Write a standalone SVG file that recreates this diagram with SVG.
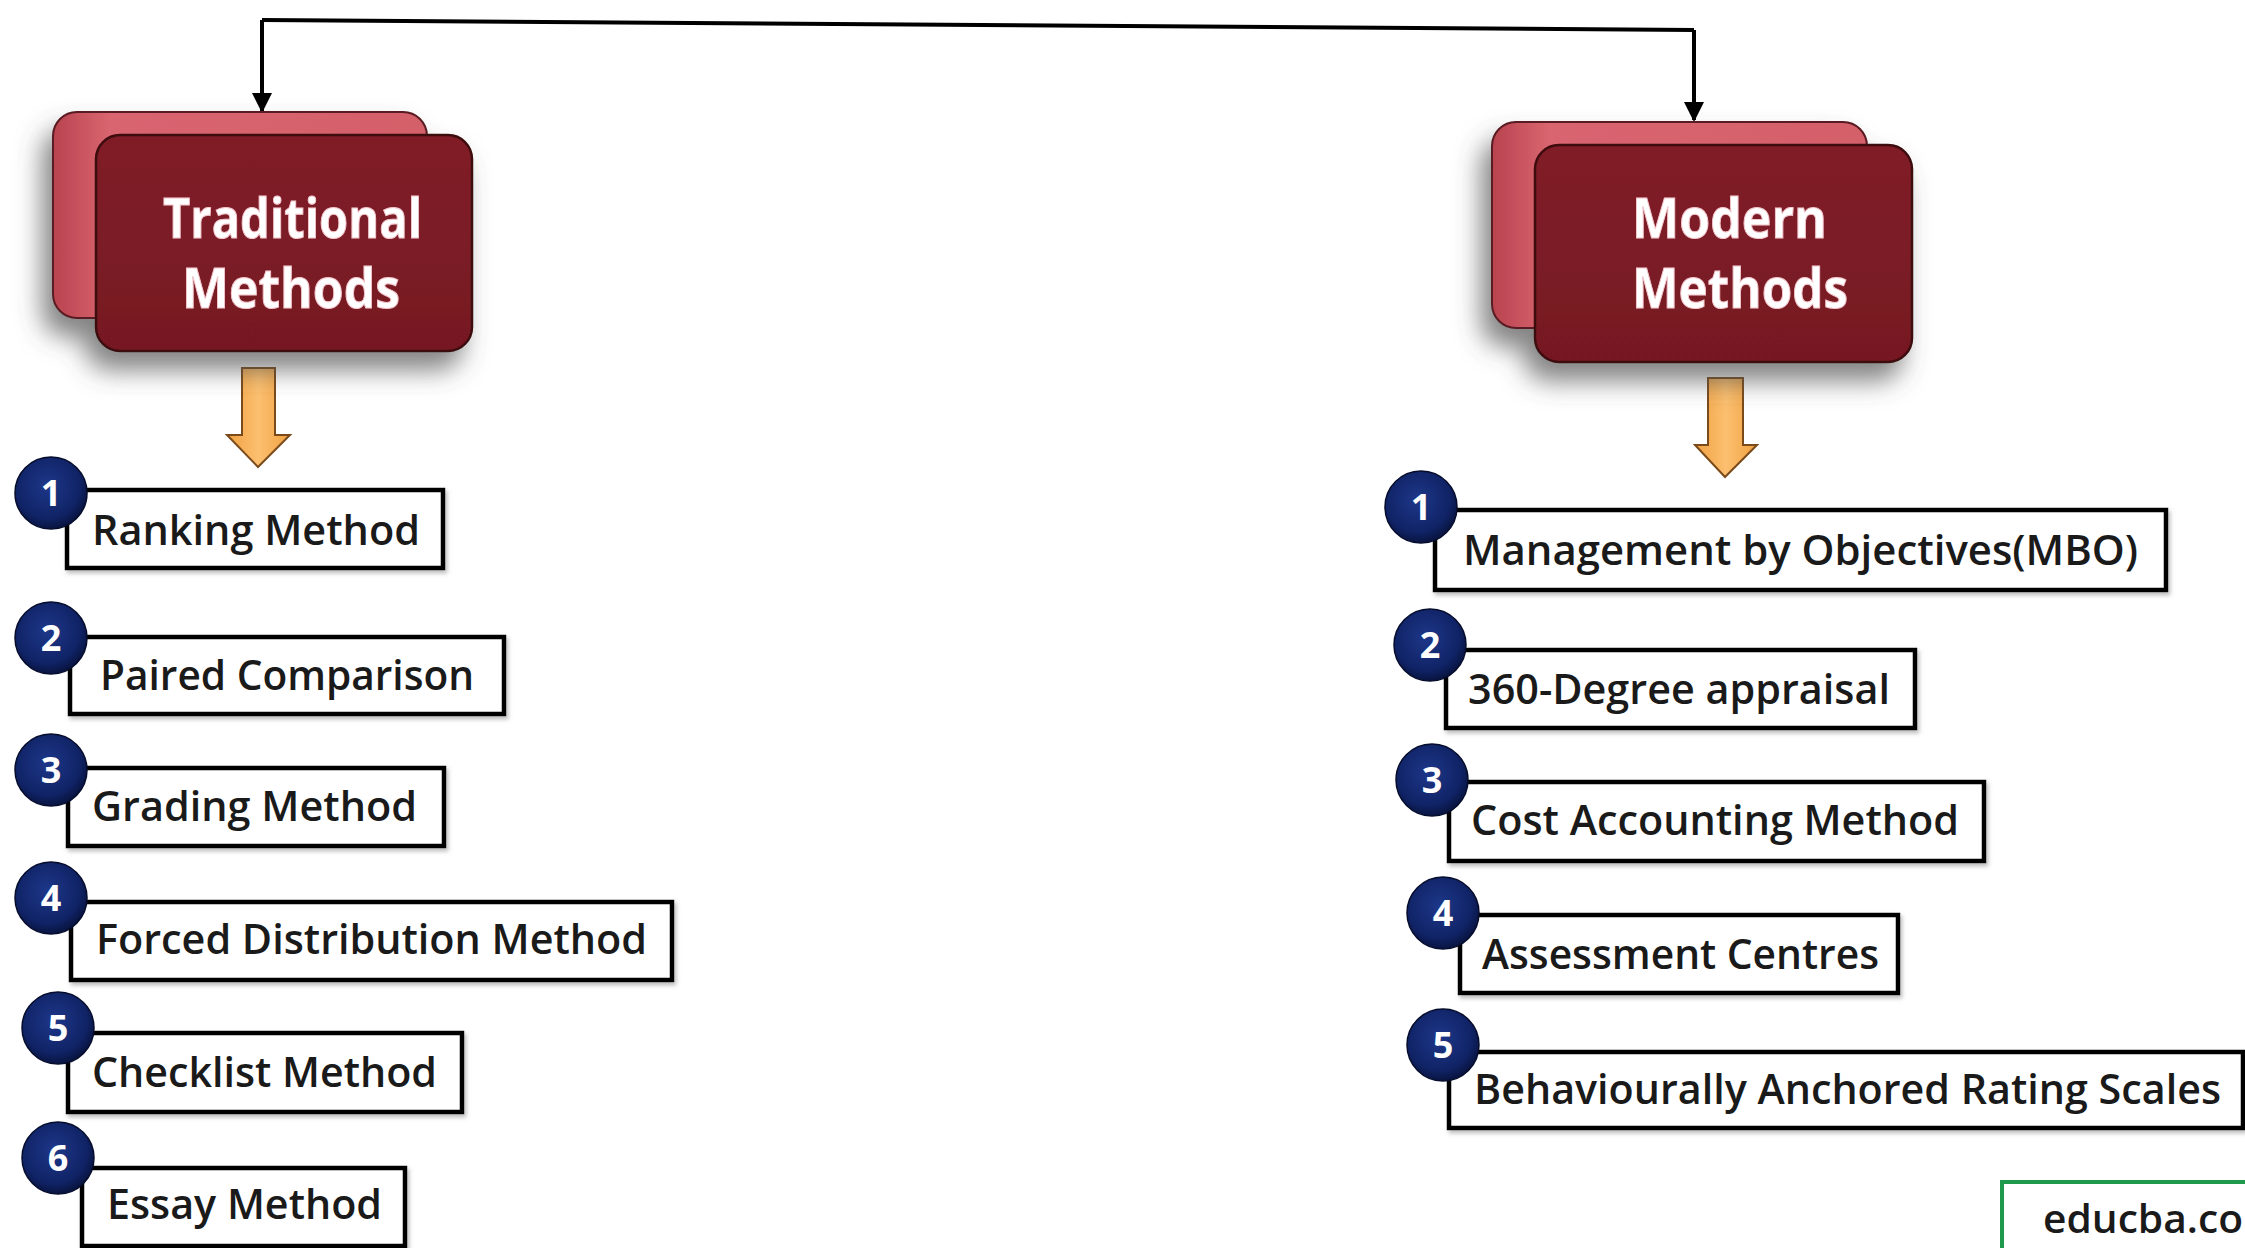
<svg xmlns="http://www.w3.org/2000/svg" width="2245" height="1248" viewBox="0 0 2245 1248">
<defs>
<filter id="bigShadow" x="-30%" y="-30%" width="160%" height="170%">
<feDropShadow dx="-10" dy="18" stdDeviation="13" flood-color="#505050" flood-opacity="0.7"/>
</filter>
<filter id="smallShadow" x="-10%" y="-20%" width="120%" height="150%">
<feDropShadow dx="2" dy="3" stdDeviation="2" flood-color="#777" flood-opacity="0.5"/>
</filter>
<linearGradient id="backGrad" x1="0" y1="0" x2="1" y2="0">
<stop offset="0" stop-color="#b8434f"/>
<stop offset="0.15" stop-color="#d9656f"/>
<stop offset="1" stop-color="#d4606b"/>
</linearGradient>
<linearGradient id="frontGrad" x1="0" y1="0" x2="0" y2="1">
<stop offset="0" stop-color="#801d28"/>
<stop offset="1" stop-color="#761923"/>
</linearGradient>
<linearGradient id="orangeGrad" x1="0" y1="0" x2="1" y2="0">
<stop offset="0" stop-color="#f0a040"/>
<stop offset="0.5" stop-color="#fcc070"/>
<stop offset="1" stop-color="#f0a040"/>
</linearGradient>
<radialGradient id="navyGrad" cx="0.45" cy="0.4" r="0.6">
<stop offset="0" stop-color="#1d3789"/>
<stop offset="0.75" stop-color="#102366"/>
<stop offset="1" stop-color="#081440"/>
</radialGradient>
<marker id="blackHead" viewBox="0 0 10 10" refX="9" refY="5" markerWidth="5" markerHeight="5" orient="auto" markerUnits="strokeWidth">
<path d="M0,0 L10,5 L0,10 Z" fill="#000"/>
</marker>
</defs>
<style>
.back{fill:url(#backGrad);stroke:#5a1a20;stroke-width:2}
.front{fill:url(#frontGrad);stroke:#3e0a10;stroke-width:2.5}
.head{font-family:"Open Sans","Noto Sans",sans-serif;font-weight:700;font-size:55px;fill:#fff;stroke:#f2c6cc;stroke-width:1}
.item{fill:#fff;stroke:#000;stroke-width:4.5}
.label{font-family:"Open Sans","Noto Sans",sans-serif;font-weight:600;font-size:42px;fill:#1a1a1a}
.num{fill:url(#navyGrad);stroke:#050c2c;stroke-width:1.5}
.numtxt{font-family:"Open Sans","Noto Sans",sans-serif;font-weight:700;font-size:36px;fill:#fff;text-anchor:middle}
.conn{fill:none;stroke:#000;stroke-width:4}
.orange{fill:url(#orangeGrad);stroke:#7a4a1a;stroke-width:2}
</style>
<rect width="2245" height="1248" fill="#fff"/>

<g id="connectors">
<path class="conn" d="M262,20 L1694,30"/>
<path class="conn" d="M262,20 L262,111" marker-end="url(#blackHead)"/>
<path class="conn" d="M1694,30 L1694,120" marker-end="url(#blackHead)"/>
<polygon class="orange" points="242,368 275,368 275,435 290,435 258,467 227,435 242,435"/>
<polygon class="orange" points="1708,378 1743,378 1743,445 1757,445 1725,477 1695,445 1708,445"/>
</g>

<g id="traditional" filter="url(#bigShadow)">
<rect class="back" x="53" y="112" width="374" height="206" rx="24"/>
<rect class="front" x="96" y="135" width="376" height="216" rx="24"/>
<text class="head" x="163" y="238" textLength="259" lengthAdjust="spacingAndGlyphs">Traditional</text>
<text class="head" x="182" y="308" textLength="218" lengthAdjust="spacingAndGlyphs">Methods</text>
</g>

<g id="modern" filter="url(#bigShadow)">
<rect class="back" x="1492" y="122" width="375" height="206" rx="24"/>
<rect class="front" x="1535" y="145" width="377" height="217" rx="24"/>
<text class="head" x="1632" y="238" textLength="195" lengthAdjust="spacingAndGlyphs">Modern</text>
<text class="head" x="1632" y="308" textLength="216" lengthAdjust="spacingAndGlyphs">Methods</text>
</g>

<g id="t1">
<rect class="item" x="67" y="490" width="376" height="78" filter="url(#smallShadow)"/>
<text class="label" x="92" y="545" textLength="328" lengthAdjust="spacingAndGlyphs">Ranking Method</text>
<circle class="num" cx="51" cy="493" r="36"/><text class="numtxt" x="51" y="506">1</text>
</g>
<g id="t2">
<rect class="item" x="70" y="637" width="434" height="77" filter="url(#smallShadow)"/>
<text class="label" x="100" y="690" textLength="374" lengthAdjust="spacingAndGlyphs">Paired Comparison</text>
<circle class="num" cx="51" cy="638" r="36"/><text class="numtxt" x="51" y="651">2</text>
</g>
<g id="t3">
<rect class="item" x="68" y="768" width="376" height="78" filter="url(#smallShadow)"/>
<text class="label" x="92" y="821" textLength="325" lengthAdjust="spacingAndGlyphs">Grading Method</text>
<circle class="num" cx="51" cy="770" r="36"/><text class="numtxt" x="51" y="783">3</text>
</g>
<g id="t4">
<rect class="item" x="71" y="902" width="601" height="78" filter="url(#smallShadow)"/>
<text class="label" x="96" y="954" textLength="551" lengthAdjust="spacingAndGlyphs">Forced Distribution Method</text>
<circle class="num" cx="51" cy="898" r="36"/><text class="numtxt" x="51" y="911">4</text>
</g>
<g id="t5">
<rect class="item" x="68" y="1033" width="394" height="79" filter="url(#smallShadow)"/>
<text class="label" x="92" y="1087" textLength="345" lengthAdjust="spacingAndGlyphs">Checklist Method</text>
<circle class="num" cx="58" cy="1028" r="36"/><text class="numtxt" x="58" y="1041">5</text>
</g>
<g id="t6">
<rect class="item" x="82" y="1168" width="323" height="78" filter="url(#smallShadow)"/>
<text class="label" x="107" y="1219" textLength="275" lengthAdjust="spacingAndGlyphs">Essay Method</text>
<circle class="num" cx="58" cy="1158" r="36"/><text class="numtxt" x="58" y="1171">6</text>
</g>

<g id="m1">
<rect class="item" x="1435" y="510" width="731" height="80" filter="url(#smallShadow)"/>
<text class="label" x="1463" y="565" textLength="675" lengthAdjust="spacingAndGlyphs">Management by Objectives(MBO)</text>
<circle class="num" cx="1421" cy="507" r="36"/><text class="numtxt" x="1421" y="520">1</text>
</g>
<g id="m2">
<rect class="item" x="1446" y="650" width="469" height="78" filter="url(#smallShadow)"/>
<text class="label" x="1468" y="704" textLength="422" lengthAdjust="spacingAndGlyphs">360-Degree appraisal</text>
<circle class="num" cx="1430" cy="645" r="36"/><text class="numtxt" x="1430" y="658">2</text>
</g>
<g id="m3">
<rect class="item" x="1449" y="782" width="535" height="79" filter="url(#smallShadow)"/>
<text class="label" x="1471" y="835" textLength="488" lengthAdjust="spacingAndGlyphs">Cost Accounting Method</text>
<circle class="num" cx="1432" cy="780" r="36"/><text class="numtxt" x="1432" y="793">3</text>
</g>
<g id="m4">
<rect class="item" x="1460" y="915" width="438" height="78" filter="url(#smallShadow)"/>
<text class="label" x="1482" y="969" textLength="397" lengthAdjust="spacingAndGlyphs">Assessment Centres</text>
<circle class="num" cx="1443" cy="913" r="36"/><text class="numtxt" x="1443" y="926">4</text>
</g>
<g id="m5">
<rect class="item" x="1449" y="1052" width="794" height="76" filter="url(#smallShadow)"/>
<text class="label" x="1474" y="1104" textLength="747" lengthAdjust="spacingAndGlyphs">Behaviourally Anchored Rating Scales</text>
<circle class="num" cx="1443" cy="1045" r="36"/><text class="numtxt" x="1443" y="1058">5</text>
</g>

<g id="watermark">
<rect x="2002" y="1182" width="260" height="90" fill="#fff" stroke="#1f9a4c" stroke-width="4"/>
<text x="2043" y="1233" font-family="'Open Sans','Noto Sans',sans-serif" font-weight="600" font-size="40" fill="#1a1a1a" textLength="200" lengthAdjust="spacingAndGlyphs">educba.co</text>
</g>
</svg>
